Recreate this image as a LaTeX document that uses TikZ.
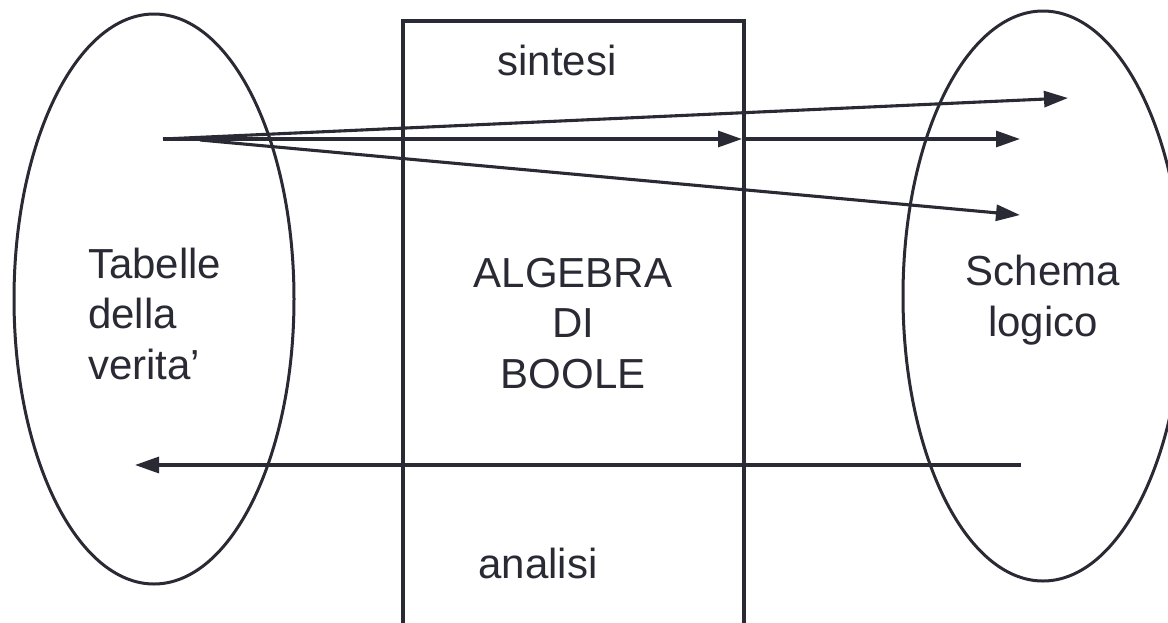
\documentclass[tikz,border=0pt]{standalone}
\usepackage{fontspec}
\setmainfont{Liberation Sans}
\usetikzlibrary{arrows.meta,shapes.geometric}
\definecolor{ink}{RGB}{42,42,52}
\begin{document}
\begin{tikzpicture}[x=1pt,y=-1pt,
  line/.style={draw=ink,line width=3.1pt},
  arr/.style={line,-{Triangle[length=24pt,width=16pt]}},
  lbl/.style={text=ink,font=\fontsize{42}{50.3}\selectfont,inner sep=0pt},
  oval/.style={ellipse,draw=ink,line width=3pt,minimum width=280pt,minimum height=570pt,inner sep=0pt}]
\useasboundingbox (0,0) rectangle (1168,622);
\clip (0,0) rectangle (1168,622);
% ovals
\node[oval] (L) at (154,299) {};
\node[oval] (R) at (1043,296) {};
% open box
\coordinate (bl) at (403,624);
\coordinate (tl) at (403,21);
\coordinate (tr) at (744,21);
\coordinate (br) at (744,624);
\draw[line] (bl) -- (tl) -- (tr) -- (br);
% labels (base anchor = last line baseline)
\node[lbl,anchor=base west,align=left] (tab) at (88,379) {Tabelle\\della\\verita’};
\node[lbl,anchor=base,align=center] (sch) at (1043,336) {Schema\\logico};
\node[lbl,anchor=base,align=center] (alg) at (573,388) {ALGEBRA\\DI\\BOOLE};
\node[lbl,anchor=base] (sin) at (557,75) {sintesi};
\node[lbl,anchor=base] (ana) at (538,578) {analisi};
% arrows
\coordinate (s1) at (163,139);
\coordinate (s2) at (200,140);
\coordinate (t1) at (1068,98);
\coordinate (m) at (742,139);
\coordinate (t2) at (1020,139);
\coordinate (t3) at (1020,215);
\coordinate (b1) at (1021,465);
\coordinate (b2) at (135,465);
\draw[arr] (s1) -- (t1);
\draw[arr] (s1) -- (m);
\draw[arr] (m) -- (t2);
\draw[arr] (s2) -- (t3);
\draw[arr] (b1) -- (b2);
\end{tikzpicture}
\end{document}
